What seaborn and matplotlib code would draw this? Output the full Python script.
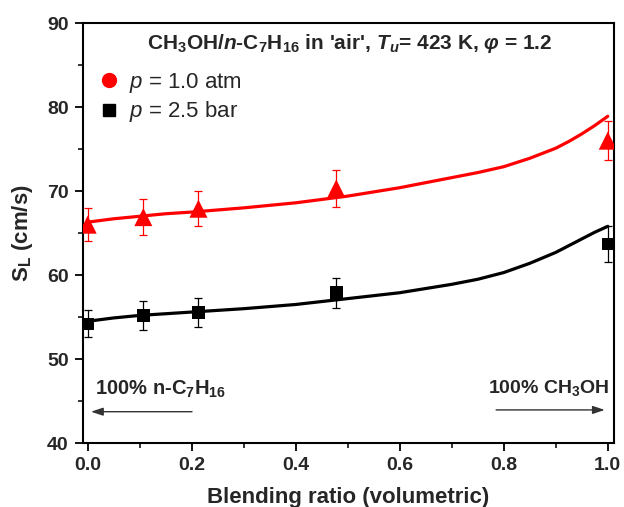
import matplotlib
matplotlib.use("Agg")
import matplotlib.pyplot as plt
from matplotlib.lines import Line2D
import seaborn as sns
import pandas as pd
import numpy as np

# ---- data ----
ratio_exp = [0.0, 0.107, 0.213, 0.478, 1.0]
sl_1atm = [66.0, 66.9, 67.9, 70.3, 76.0]
err_1atm = [2.0, 2.1, 2.1, 2.2, 2.3]
sl_25bar = [54.2, 55.2, 55.55, 57.9, 63.7]
err_25bar = [1.6, 1.7, 1.75, 1.8, 2.1]

ratio_model = [0.0, 0.05, 0.1, 0.15, 0.2, 0.3, 0.4, 0.5, 0.6, 0.7, 0.75, 0.8, 0.85, 0.9, 0.925, 0.95, 0.975, 1.0]
model_1atm = [66.3, 66.7, 67.0, 67.3, 67.5, 68.0, 68.6, 69.4, 70.4, 71.6, 72.2, 72.9, 73.9, 75.1, 75.9, 76.8, 77.8, 78.9]
model_25bar = [54.5, 54.9, 55.2, 55.4, 55.6, 56.0, 56.5, 57.2, 57.9, 58.9, 59.5, 60.3, 61.4, 62.7, 63.5, 64.3, 65.1, 65.8]

labels = ["1.0 atm", "2.5 bar"]
legend_labels = [r"$p$ = 1.0 atm", r"$p$ = 2.5 bar"]
xticks = [0.0, 0.2, 0.4, 0.6, 0.8, 1.0]
yticks = [40, 50, 60, 70, 80, 90]

sns.set_theme(style="ticks")
plt.rcParams["font.family"] = ["Liberation Sans", "DejaVu Sans"]
plt.rcParams["mathtext.fontset"] = "custom"
plt.rcParams["mathtext.rm"] = "Liberation Sans"
plt.rcParams["mathtext.it"] = "Liberation Sans:italic"
plt.rcParams["mathtext.bf"] = "Liberation Sans:bold"
plt.rcParams["mathtext.bfit"] = "Liberation Sans:bold:italic"

fig = plt.figure(figsize=(6.24, 5.07), dpi=100)
ax = fig.add_axes([0.1325, 0.126, 0.8515, 0.8286])

df_model = pd.DataFrame({
    "ratio": ratio_model * 2,
    "SL": model_1atm + model_25bar,
    "p": [labels[0]] * len(ratio_model) + [labels[1]] * len(ratio_model),
})
palette = {labels[0]: "#ff0000", labels[1]: "#000000"}
sns.lineplot(data=df_model, x="ratio", y="SL", hue="p", palette=palette,
             linewidth=2.3, ax=ax, legend=False, sort=True)

df_exp = pd.DataFrame({
    "ratio": ratio_exp * 2,
    "SL": sl_1atm + sl_25bar,
    "p": [labels[0]] * len(ratio_exp) + [labels[1]] * len(ratio_exp),
})
ax.errorbar(ratio_exp, sl_1atm, yerr=err_1atm, fmt="none", ecolor="#ff0000",
            elinewidth=0.9, capsize=3.2, capthick=0.9, zorder=3)
ax.errorbar(ratio_exp, sl_25bar, yerr=err_25bar, fmt="none", ecolor="#000000",
            elinewidth=0.9, capsize=3.2, capthick=0.9, zorder=3)
sns.scatterplot(data=df_exp, x="ratio", y="SL", hue="p", style="p",
                markers={labels[0]: "^", labels[1]: "s"}, palette=palette,
                ax=ax, legend=False, zorder=4, linewidth=0)
sizes = np.where(np.array(df_exp["p"]) == labels[0], 13 ** 2, 9 ** 2)
ax.collections[-1].set_sizes(sizes)

ax.set_xlim(-0.0096, 1.012)
ax.set_ylim(40, 90)
ax.set_xticks(xticks)
ax.set_yticks(yticks)
ax.set_xticklabels([f"{t:.1f}" for t in xticks], fontsize=14, fontweight="bold")
ax.set_yticklabels([str(t) for t in yticks], fontsize=14, fontweight="bold")
ax.xaxis.set_minor_locator(matplotlib.ticker.MultipleLocator(0.1))
ax.yaxis.set_minor_locator(matplotlib.ticker.MultipleLocator(5))
ax.tick_params(axis="both", which="major", direction="out", length=6, width=1.3, color="black", pad=4)
ax.tick_params(axis="both", which="minor", direction="out", length=3.5, width=1.1, color="black")
for s in ax.spines.values():
    s.set_color("black")
    s.set_linewidth(1.5)
    s.set_visible(True)

ax.set_xlabel("Blending ratio (volumetric)", fontsize=16, fontweight="bold", labelpad=9)
ax.set_ylabel(r"S$_\mathbf{L}$ (cm/s)", fontsize=16, fontweight="bold", labelpad=9)

ax.text(0.503, 0.952,
        r"CH$_\mathbf{3}$OH/$\mathbfit{n}$-C$_\mathbf{7}$H$_\mathbf{16}$ in 'air', $\mathbfit{T}_\mathbfit{u}$= 423 K, $\mathbfit{\varphi}$ = 1.2",
        transform=ax.transAxes, ha="center", va="center", fontsize=15, fontweight="bold")

handles = [Line2D([], [], linestyle="none", marker="o", markersize=10, color="#ff0000"),
           Line2D([], [], linestyle="none", marker="s", markersize=8, color="#000000")]
ax.legend(handles, legend_labels, loc="upper left", bbox_to_anchor=(0.033, 0.886),
          frameon=False, fontsize=16, handlelength=0.8, handletextpad=0.5,
          labelspacing=0.2, borderpad=0, borderaxespad=0)

ax.text(0.014, 45.8, r"100% n-C$_\mathbf{7}$H$_\mathbf{16}$", ha="left", va="baseline",
        fontsize=14.5, fontweight="bold")
ax.text(1.004, 46.0, r"100% CH$_\mathbf{3}$OH", ha="right", va="baseline",
        fontsize=14, fontweight="bold")
ax.annotate("", xy=(0.001, 43.74), xytext=(0.206, 43.74),
            arrowprops=dict(arrowstyle="-|>,head_length=0.6,head_width=0.2", color="#333333", lw=1.0))
ax.annotate("", xy=(0.9996, 43.95), xytext=(0.78, 43.95),
            arrowprops=dict(arrowstyle="-|>,head_length=0.6,head_width=0.2", color="#333333", lw=1.0))

fig.savefig("out.png", dpi=100)
